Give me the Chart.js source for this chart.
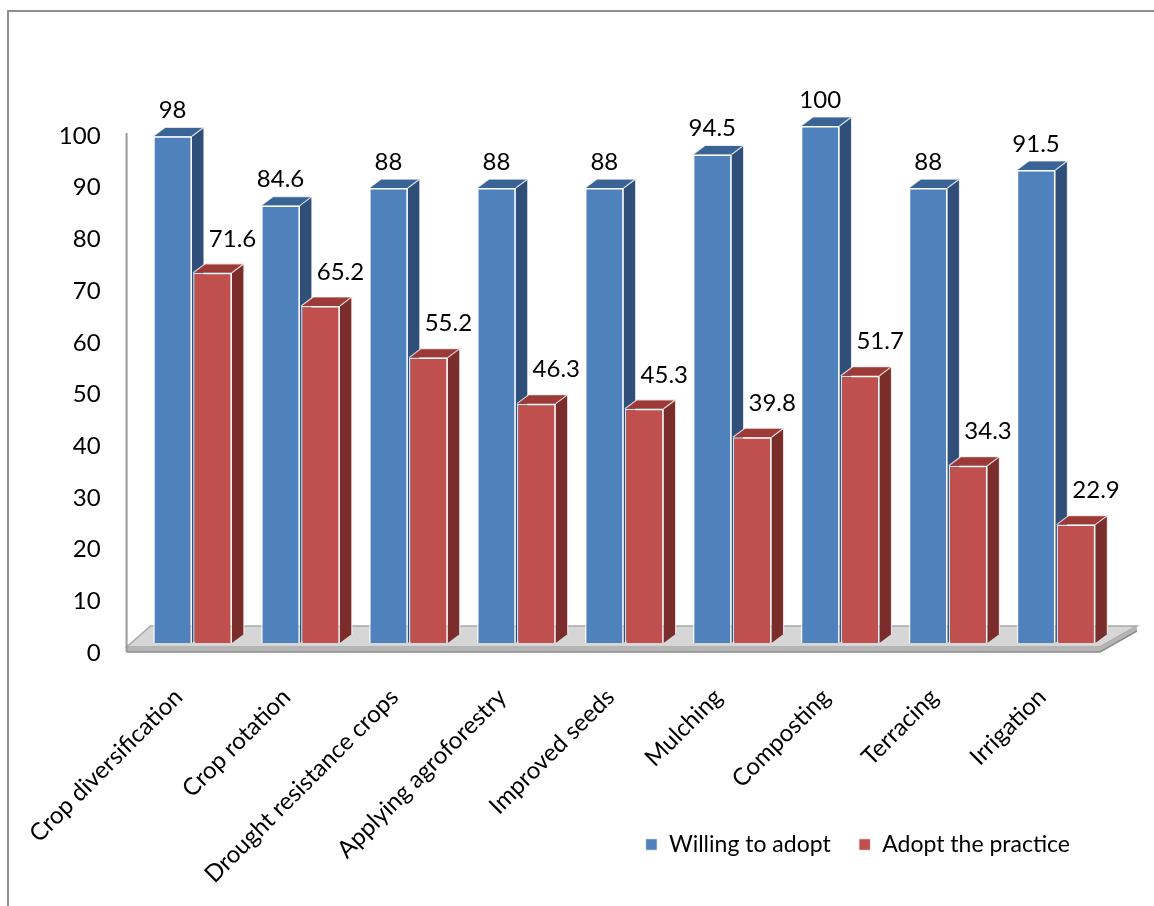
<!DOCTYPE html>
<html>
<head>
<meta charset="utf-8">
<script src="https://cdn.jsdelivr.net/npm/chart.js@4.4.1/dist/chart.umd.min.js"></script>
<style>
  html, body { margin: 0; padding: 0; background: #ffffff; }
  canvas { display: block; }
</style>
</head>
<body>
<canvas id="chart" width="1154" height="906"></canvas>
<script>
// ---- data ----
const categories = [
  'Crop diversification', 'Crop rotation', 'Drought resistance crops',
  'Applying agroforestry', 'Improved seeds', 'Mulching', 'Composting',
  'Terracing', 'Irrigation'
];
const willingToAdopt = [98, 84.6, 88, 88, 88, 94.5, 100, 88, 91.5];
const adoptThePractice = [71.6, 65.2, 55.2, 46.3, 45.3, 39.8, 51.7, 34.3, 22.9];
const seriesNames = ['Willing to adopt', 'Adopt the practice'];
const yMin = 0, yMax = 100, yStep = 10;

// ---- styling ----
const FONT = 'Lato';
const DX = 12, DY = 9;
const LEGEND_PAD = 28, LEGEND_FONT = 23;
const faces = [
  { front: '#4F81BD', side: '#2F4F78', top: '#3B6496' },
  { front: '#C0504D', side: '#7B2D2B', top: '#9C3A37' }
];
const labelShift = [ { dx: 0, dy: -26 }, { dx: 20, dy: -34 } ];

const threeD = {
  id: 'threeD',
  beforeDraw(chart) {
    const ctx = chart.ctx;
    ctx.save();
    ctx.strokeStyle = '#8f8f8f';
    ctx.lineWidth = 2;
    ctx.beginPath();
    ctx.moveTo(8, 906);
    ctx.lineTo(8, 11);
    ctx.lineTo(1154, 11);
    ctx.stroke();
    ctx.restore();
  },
  afterLayout(chart) {
    // move the legend from the top slot to the lower right, beside the rotated labels
    const lg = chart.legend;
    if (!lg) return;
    const h = lg.height;
    lg.top = 805;
    lg.bottom = lg.top + h;
    lg.right = 1098;
  },
  beforeDatasetsDraw(chart) {
    const ctx = chart.ctx;
    const a = chart.chartArea;
    ctx.save();
    // floor
    const fy = a.bottom + 4, by = a.bottom - 17, th = 5;
    const flx = a.left - 12, frx = a.right - 10, brx = a.right + 27, blx = a.left + 12;
    ctx.fillStyle = '#d6d6d6';
    ctx.beginPath();
    ctx.moveTo(flx, fy); ctx.lineTo(frx, fy); ctx.lineTo(brx, by); ctx.lineTo(blx, by);
    ctx.closePath(); ctx.fill();
    ctx.strokeStyle = '#a8a8a8'; ctx.lineWidth = 1.5; ctx.stroke();
    ctx.fillStyle = '#b5b5b5';
    ctx.beginPath();
    ctx.moveTo(flx, fy); ctx.lineTo(frx, fy); ctx.lineTo(frx, fy + th); ctx.lineTo(flx, fy + th);
    ctx.closePath(); ctx.fill();
    ctx.beginPath();
    ctx.moveTo(frx, fy); ctx.lineTo(brx, by); ctx.lineTo(brx, by + th); ctx.lineTo(frx, fy + th);
    ctx.closePath(); ctx.fill();
    ctx.strokeStyle = '#8c8c8c'; ctx.lineWidth = 1.5;
    ctx.beginPath(); ctx.moveTo(flx, fy + th); ctx.lineTo(frx, fy + th); ctx.lineTo(brx, by + th); ctx.stroke();
    // axis line
    ctx.strokeStyle = '#9a9a9a'; ctx.lineWidth = 2;
    ctx.beginPath(); ctx.moveTo(a.left - 12, a.top + 7); ctx.lineTo(a.left - 12, fy + th); ctx.stroke();
    // bar side and top faces
    chart.data.datasets.forEach((ds, di) => {
      const meta = chart.getDatasetMeta(di);
      meta.data.forEach(bar => {
        const p = bar.getProps(['x', 'y', 'base', 'width'], true);
        const l = p.x - p.width / 2, r = p.x + p.width / 2;
        ctx.fillStyle = faces[di].side;
        ctx.beginPath();
        ctx.moveTo(r, p.y); ctx.lineTo(r + DX, p.y - DY); ctx.lineTo(r + DX, p.base - DY); ctx.lineTo(r, p.base);
        ctx.closePath(); ctx.fill();
        ctx.fillStyle = faces[di].top;
        ctx.beginPath();
        ctx.moveTo(l, p.y); ctx.lineTo(l + DX, p.y - DY); ctx.lineTo(r + DX, p.y - DY); ctx.lineTo(r, p.y);
        ctx.closePath(); ctx.fill();
        ctx.strokeStyle = 'rgba(255,255,255,0.75)'; ctx.lineWidth = 1.2;
        ctx.beginPath();
        ctx.moveTo(l, p.y); ctx.lineTo(l + DX, p.y - DY); ctx.lineTo(r + DX, p.y - DY); ctx.lineTo(r, p.y);
        ctx.moveTo(r + DX, p.y - DY); ctx.lineTo(r + DX, p.base - DY);
        ctx.stroke();
      });
    });
    ctx.restore();
  },
  afterDatasetsDraw(chart) {
    const ctx = chart.ctx;
    ctx.save();
    ctx.font = '24px ' + FONT;
    ctx.fillStyle = '#000';
    ctx.textAlign = 'center';
    ctx.textBaseline = 'middle';
    chart.data.datasets.forEach((ds, di) => {
      const meta = chart.getDatasetMeta(di);
      meta.data.forEach((bar, i) => {
        const p = bar.getProps(['x', 'y'], true);
        ctx.fillText(String(ds.data[i]), p.x + labelShift[di].dx, p.y + labelShift[di].dy);
      });
    });
    ctx.restore();
  }
};

new Chart(document.getElementById('chart'), {
  type: 'bar',
  data: {
    labels: categories,
    datasets: [
      { label: seriesNames[0], data: willingToAdopt, backgroundColor: faces[0].front,
        borderColor: 'rgba(255,255,255,0.8)', borderWidth: 1.5 },
      { label: seriesNames[1], data: adoptThePractice, backgroundColor: faces[1].front,
        borderColor: 'rgba(255,255,255,0.8)', borderWidth: 1.5 }
    ]
  },
  options: {
    responsive: false,
    animation: false,
    devicePixelRatio: 1,
    datasets: { bar: { categoryPercentage: 0.74, barPercentage: 0.97 } },
    layout: { padding: { top: 116 - (LEGEND_FONT + LEGEND_PAD), right: 44, bottom: 0, left: 0 } },
    plugins: {
      legend: {
        position: 'top',
        align: 'end',
        labels: { boxWidth: 12, boxHeight: 12, padding: LEGEND_PAD, color: '#000',
                  font: { family: FONT, size: LEGEND_FONT } }
      },
      tooltip: { enabled: false }
    },
    scales: {
      x: {
        grid: { display: false, drawTicks: false },
        border: { display: false },
        ticks: { autoSkip: false, minRotation: 45, maxRotation: 45, padding: 40, labelOffset: -14,
                 color: '#000', font: { family: FONT, size: 24 } },
        afterFit(scale) { scale.height = 263; }
      },
      y: {
        min: yMin, max: yMax,
        grid: { display: false, drawTicks: false },
        border: { display: false },
        ticks: { stepSize: yStep, padding: 38, labelOffset: 10,
                 color: '#000', font: { family: FONT, size: 24 } },
        afterFit(scale) { scale.width = 138; }
      }
    }
  },
  plugins: [threeD]
});
</script>
</body>
</html>
